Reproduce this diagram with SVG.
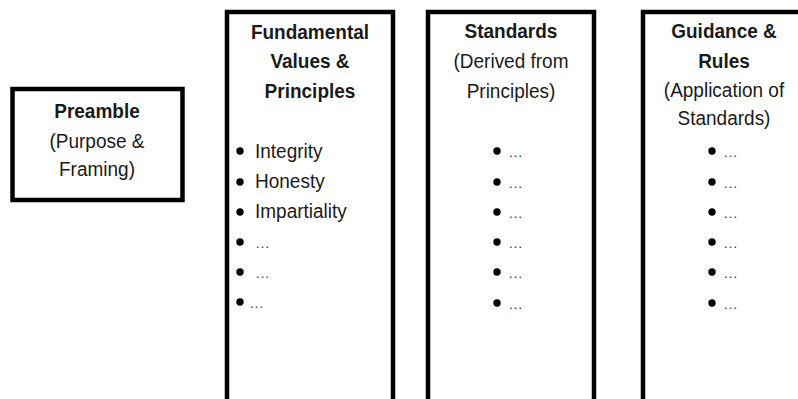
<svg xmlns="http://www.w3.org/2000/svg" width="798" height="399" viewBox="0 0 798 399">
<style>
.box{fill:#fff;stroke:#000;stroke-width:4.5}
text{font-family:"Liberation Sans",Arial,sans-serif;font-size:19px;fill:#1a1a1a;text-anchor:middle}
.b{font-weight:bold}
.l{text-anchor:start}
.dot{fill:#000}
.e{text-anchor:start;font-size:15px;fill:#444}
.s{transform:scale(1,1.08)}
</style>
<rect width="798" height="399" fill="#fff"/>
<g id="preamble">
<rect class="box" x="12.5" y="89" width="170" height="111"/>
<g class="s">
<text class="b" x="97" y="109.26">Preamble</text>
<text x="97" y="137.04">(Purpose &amp;</text>
<text x="97" y="162.96">Framing)</text>
</g>
</g>
<g id="principles">
<path class="box" d="M227 405V12H393V405"/>
<g class="s">
<text class="b" x="310" y="36.11">Fundamental</text>
<text class="b" x="310" y="62.96">Values &amp;</text>
<text class="b" x="310" y="90.74">Principles</text>
<text class="l" x="255" y="146.3">Integrity</text>
<text class="l" x="255" y="174.07">Honesty</text>
<text class="l" x="255" y="201.85">Impartiality</text>
</g>
<circle class="dot" cx="240" cy="151" r="3.7"/>
<circle class="dot" cx="240" cy="182" r="3.7"/>
<circle class="dot" cx="240" cy="212" r="3.7"/>
<circle class="dot" cx="240" cy="242" r="3.7"/><text class="e" x="255" y="248">…</text>
<circle class="dot" cx="240" cy="272" r="3.7"/><text class="e" x="255" y="278">…</text>
<circle class="dot" cx="240" cy="302" r="3.7"/><text class="e" x="249" y="308">…</text>
</g>
<g id="standards">
<path class="box" d="M428 405V12H594V405"/>
<g class="s">
<text class="b" x="511" y="35.19">Standards</text>
<text x="511" y="62.96">(Derived from</text>
<text x="511" y="90.74">Principles)</text>
</g>
<circle class="dot" cx="497" cy="151" r="3.7"/><text class="e" x="508" y="157">…</text>
<circle class="dot" cx="497" cy="182" r="3.7"/><text class="e" x="508" y="188">…</text>
<circle class="dot" cx="497" cy="212" r="3.7"/><text class="e" x="508" y="218">…</text>
<circle class="dot" cx="497" cy="242" r="3.7"/><text class="e" x="508" y="248">…</text>
<circle class="dot" cx="497" cy="272" r="3.7"/><text class="e" x="508" y="278">…</text>
<circle class="dot" cx="497" cy="303" r="3.7"/><text class="e" x="508" y="309">…</text>
</g>
<g id="guidance">
<path class="box" d="M643 405V12H810"/>
<g class="s">
<text class="b" x="724" y="35.19">Guidance &amp;</text>
<text class="b" x="724" y="62.96">Rules</text>
<text x="724" y="89.81">(Application of</text>
<text x="724" y="115.74">Standards)</text>
</g>
<circle class="dot" cx="712" cy="151" r="3.7"/><text class="e" x="723" y="157">…</text>
<circle class="dot" cx="712" cy="182" r="3.7"/><text class="e" x="723" y="188">…</text>
<circle class="dot" cx="712" cy="212" r="3.7"/><text class="e" x="723" y="218">…</text>
<circle class="dot" cx="712" cy="242" r="3.7"/><text class="e" x="723" y="248">…</text>
<circle class="dot" cx="712" cy="272" r="3.7"/><text class="e" x="723" y="278">…</text>
<circle class="dot" cx="712" cy="303" r="3.7"/><text class="e" x="723" y="309">…</text>
</g>
<g id="connectors"></g>
</svg>
